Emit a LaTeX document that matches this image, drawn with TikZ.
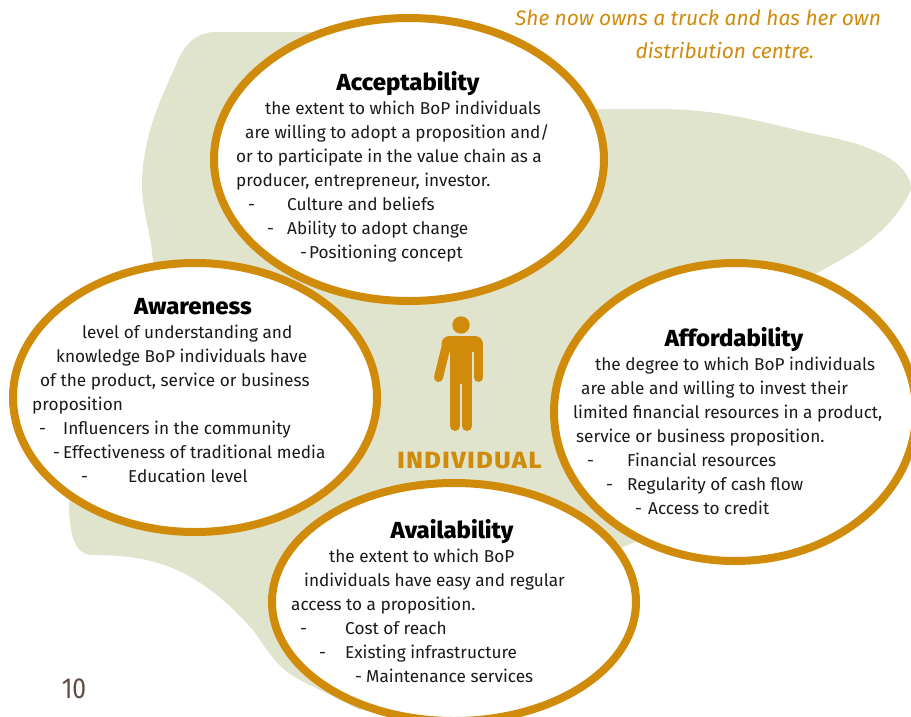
\documentclass[tikz,border=0pt]{standalone}
\usepackage{fontspec}
\setmainfont{Fira Sans}
\newfontfamily\heavyfont{Fira Sans ExtraBold}
\usetikzlibrary{shapes.geometric}
\definecolor{gold}{HTML}{D08B0A}
\definecolor{sage}{HTML}{E1E4CC}
\definecolor{brownish}{HTML}{5F4B40}
\definecolor{ink}{HTML}{1A1A1A}
\tikzset{
  ring/.style={ellipse,draw=gold,fill=white,line width=8pt,inner sep=0pt,outer sep=0pt},
  body/.style={anchor=base west,font=\fontsize{17.2}{20}\selectfont,text=ink,inner sep=0pt},
  head/.style={anchor=base,font=\heavyfont\fontsize{23.2}{26}\selectfont,text=black,inner sep=0pt,xscale=1.03},
  quotetext/.style={anchor=base,font=\fontsize{20.9}{24}\selectfont\itshape,text=gold,inner sep=0pt},
  limb/.style={draw=gold,line cap=round},
}
\begin{document}
\begin{tikzpicture}[x=1pt,y=-1pt]
\useasboundingbox (0,0) rectangle (911,716);
\fill[sage] (215,32) .. controls (200,32) and (187,40) .. (178,60)
  .. controls (168,85) and (142,130) .. (142,185)
  .. controls (142,215) and (153,235) .. (153,270)
  -- (100,400) -- (69,503) .. controls (69,535) and (75,555) .. (92,555)
  .. controls (150,555) and (195,565) .. (253,630)
  .. controls (270,655) and (280,670) .. (300,680)
  -- (360,710) -- (623,547) -- (640,540)
  -- (817,273) .. controls (850,255) and (890,235) .. (911,190)
  .. controls (911,165) and (880,148) .. (830,137)
  .. controls (780,128) and (730,109) .. (660,109)
  -- (595,109) -- (400,32) -- cycle;
\node[ring,minimum width=390pt,minimum height=283pt] (acc) at (409,159.5) {};
\node[ring,minimum width=364pt,minimum height=269pt] (awa) at (195,397.5) {};
\node[ring,minimum width=362pt,minimum height=298pt] (aff) at (735,412) {};
\node[ring,minimum width=364pt,minimum height=238pt] (ava) at (454,602) {};
\fill[gold] (461,325) circle (8.7);
\fill[gold,rounded corners=8pt] (441.5,352) -- (441.5,336) -- (483,336) -- (483,352) -- cycle;
\fill[gold] (445,344) rectangle (479,352);
\fill[gold] (450,345) rectangle (472,384);
\draw[limb,line width=9pt] (446,347) -- (438.5,377.5);
\draw[limb,line width=9pt] (478.5,347) -- (478.5,377.5);
\draw[limb,line width=10pt] (455,384) -- (455,426);
\draw[limb,line width=10pt] (467,384) -- (467,426);
\node[anchor=base,font=\heavyfont\fontsize{23.5}{26}\selectfont\addfontfeatures{LetterSpace=6},text=gold,inner sep=0pt,xscale=1.075] (ind) at (469.5,468) {INDIVIDUAL};
\node[quotetext] (q1) at (698,25) {She now owns a truck and has her own};
\node[quotetext] (q2) at (725,58) {distribution centre.};
\node[head] (h1) at (408,90) {Acceptability};
\node[head] (h2) at (193,314) {Awareness};
\node[head] (h3) at (734,346) {Affordability};
\node[head] (h4) at (452,538) {Availability};
\node[body] (a1) at (265,114) {the extent to which BoP individuals};
\node[body] (a2) at (245,138) {are willing to adopt a proposition and/};
\node[body] (a3) at (236,162) {or to participate in the value chain as a};
\node[body] (a4) at (236,186) {producer, entrepreneur, investor.};
\node[body] (a5) at (248,210) {-};
\node[body] (a6) at (287,210) {Culture and beliefs};
\node[body] (a7) at (267,234) {-};
\node[body] (a8) at (287,234) {Ability to adopt change};
\node[body] (a9) at (300,258) {-};
\node[body] (a10) at (309,258) {Positioning concept};
\node[body] (b1) at (82,338) {level of understanding and};
\node[body] (b2) at (56,362) {knowledge BoP individuals have};
\node[body] (b3) at (40,386) {of the product, service or business};
\node[body] (b4) at (32,410) {proposition};
\node[body] (b5) at (39,434) {-};
\node[body] (b6) at (63,434) {Influencers in the community};
\node[body] (b7) at (53,458) {-};
\node[body] (b8) at (63,458) {Effectiveness of traditional media};
\node[body] (b9) at (81,482) {-};
\node[body] (b10) at (128,482) {Education level};
\node[body] (c1) at (595,370) {the degree to which BoP individuals};
\node[body] (c2) at (581,394) {are able and willing to invest their};
\node[body] (c3) at (573,418) {limited financial resources in a product,};
\node[body] (c4) at (576,442) {service or business proposition.};
\node[body] (c5) at (587,466) {-};
\node[body] (c6) at (627,466) {Financial resources};
\node[body] (c7) at (606,490) {-};
\node[body] (c8) at (627,490) {Regularity of cash flow};
\node[body] (c9) at (635,514) {-};
\node[body] (c10) at (648,514) {Access to credit};
\node[body] (d1) at (329,562) {the extent to which BoP};
\node[body] (d2) at (304,586) {individuals have easy and regular};
\node[body] (d3) at (291,610) {access to a proposition.};
\node[body] (d4) at (300,634) {-};
\node[body] (d5) at (345,634) {Cost of reach};
\node[body] (d6) at (319,658) {-};
\node[body] (d7) at (345,658) {Existing infrastructure};
\node[body] (d8) at (355,682) {-};
\node[body] (d9) at (366,682) {Maintenance services};
\node[anchor=base,font=\fontsize{29}{30}\selectfont,text=brownish,xscale=.85,inner sep=0pt] (pg) at (74,698) {10};
\end{tikzpicture}
\end{document}
